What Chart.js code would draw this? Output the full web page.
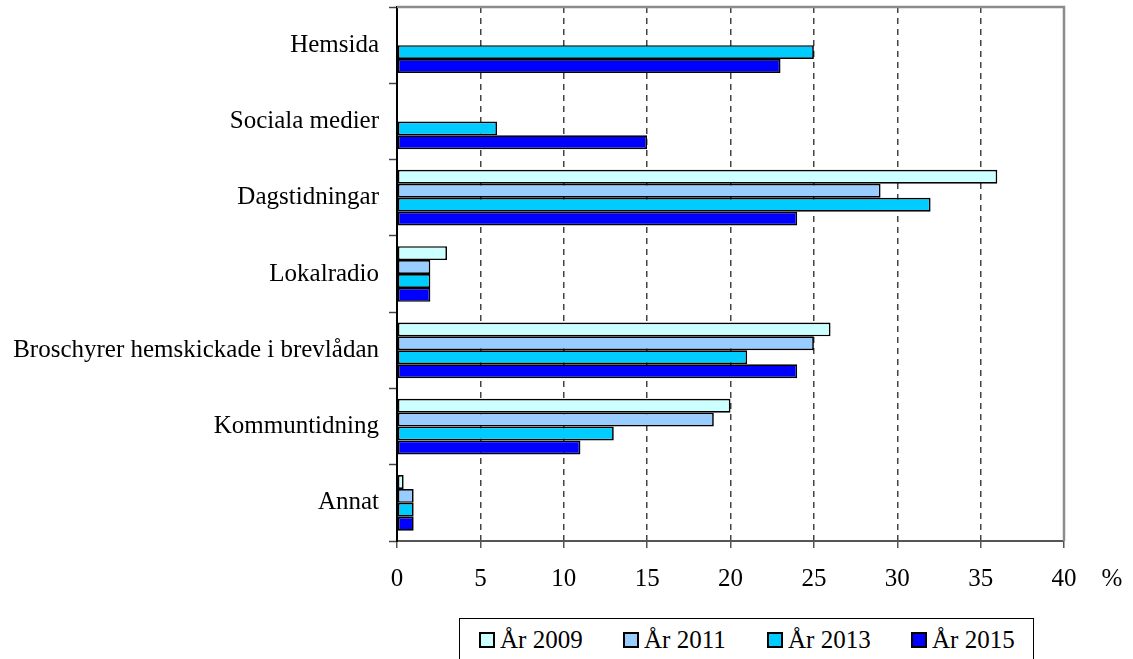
<!DOCTYPE html>
<html lang="sv">
<head>
  <meta charset="UTF-8"/>
  <title>Informationskanaler</title>
  <script src="https://cdn.jsdelivr.net/npm/chart.js"></script>
  <style>
    body { margin:0; background:#fff; overflow:hidden; font-family:'Liberation Serif','Times New Roman',serif; }
    .wrap { position:relative; width:1133px; height:659px; }
    #legend { position:absolute; left:459px; top:618px; width:575px; height:60px; border:1px solid #000; background:#fff; box-sizing:border-box; }
    .item { position:absolute; top:9px; height:24px; display:flex; align-items:center; font-size:25px; color:#000; white-space:nowrap; }
    .item .box { width:16px; height:16px; border:2px solid #000; box-sizing:border-box; margin-right:5px; }
  </style>
</head>
<body>
<div class="wrap">
  <canvas id="chart" width="1133" height="659"></canvas>
  <div id="legend"></div>
</div>
<script>
  // data (percent)
  const categories = ['Hemsida', 'Sociala medier', 'Dagstidningar', 'Lokalradio',
    'Broschyrer hemskickade i brevlådan', 'Kommuntidning', 'Annat'];
  const seriesNames = ['År 2009', 'År 2011', 'År 2013', 'År 2015'];
  const y2009 = [null, null, 36, 3, 26, 20, 0.4];
  const y2011 = [null, null, 29, 2, 25, 19, 1];
  const y2013 = [25, 6, 32, 2, 21, 13, 1];
  const y2015 = [23, 15, 24, 2, 24, 11, 1];
  const xTicks = [0, 5, 10, 15, 20, 25, 30, 35, 40];

  const colors = ['#ccffff', '#99ccff', '#00ccff', '#0000ff'];
  const fontFam = "'Liberation Serif', 'Times New Roman', serif";

  const datasets = [y2009, y2011, y2013, y2015].map((d, i) => ({
    label: seriesNames[i],
    data: d,
    backgroundColor: colors[i],
    borderColor: '#000',
    borderWidth: 1.7,
    borderSkipped: false,
    categoryPercentage: 0.73,
    barPercentage: 1.0
  }));

  // top and right frame + "%" unit label
  const framePlugin = {
    id: 'frame',
    afterDraw(chart) {
      const {ctx, chartArea: a} = chart;
      ctx.save();
      ctx.strokeStyle = '#8c8c8c';
      ctx.lineWidth = 2.5;
      ctx.beginPath();
      ctx.moveTo(a.left, a.top);
      ctx.lineTo(a.right, a.top);
      ctx.lineTo(a.right, a.bottom);
      ctx.stroke();
      ctx.fillStyle = '#000';
      ctx.font = '25px ' + fontFam;
      ctx.textAlign = 'center';
      ctx.textBaseline = 'alphabetic';
      ctx.fillText('%', a.right + 48, 586);
      ctx.restore();
    }
  };

  new Chart(document.getElementById('chart').getContext('2d'), {
    type: 'bar',
    data: { labels: categories, datasets: datasets },
    plugins: [framePlugin],
    options: {
      indexAxis: 'y',
      responsive: false,
      animation: false,
      layout: { padding: { top: 7, right: 69, left: 0, bottom: 0 } },
      plugins: { legend: { display: false }, tooltip: { enabled: false } },
      scales: {
        x: {
          min: 0, max: 40,
          afterBuildTicks(scale) { scale.ticks = xTicks.map(v => ({ value: v })); },
          afterFit(scale) { scale.height = 118; },
          ticks: { color: '#000', font: { family: fontFam, size: 25 }, padding: 16, maxRotation: 0 },
          grid: {
            color: c => (c.tick && (c.tick.value === 0 || c.tick.value === 40)) ? 'rgba(0,0,0,0)' : '#444',
            lineWidth: 1.5,
            tickColor: '#555',
            tickWidth: 1.5,
            tickLength: 7,
            tickBorderDash: []
          },
          border: { color: '#555', width: 2, dash: [6, 5] }
        },
        y: {
          afterFit(scale) {
            scale.width = 397;
            scale.paddingTop = 0;
            scale.paddingBottom = 0;
          },
          ticks: { color: '#000', font: { family: fontFam, size: 25 }, padding: 10 },
          grid: {
            drawOnChartArea: false,
            tickColor: '#444',
            tickWidth: 1.5,
            tickLength: 8
          },
          border: { color: '#000', width: 2 }
        }
      }
    }
  });

  // legend built from the series names and colours
  const legend = document.getElementById('legend');
  seriesNames.forEach((name, i) => {
    const it = document.createElement('div');
    it.className = 'item';
    it.style.left = (19 + i * 144) + 'px';
    it.innerHTML = '<span class="box" style="background:' + colors[i] + '"></span><span></span>';
    it.lastChild.textContent = name;
    legend.appendChild(it);
  });
</script>
</body>
</html>
